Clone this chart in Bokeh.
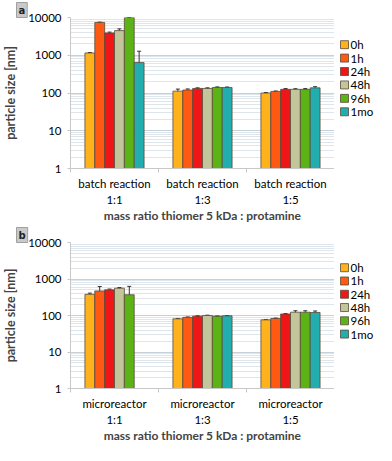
import numpy as np
from bokeh.plotting import figure
from bokeh.models import (ColumnDataSource, Whisker, TeeHead, FixedTicker,
                          Title, LinearAxis)
from bokeh.core.properties import value
from bokeh.layouts import column, row
from bokeh.embed import file_html
from bokeh.resources import INLINE

# ---------------- data ----------------
series = ["0h", "1h", "24h", "48h", "96h", "1mo"]
colors = ["#FFB21C", "#FF5912", "#EE1616", "#C2C69A", "#5BB315", "#22ADAF"]

cats_a = ["batch reaction", "batch reaction", "batch reaction"]
cats_b = ["microreactor", "microreactor", "microreactor"]
ratios = ["1:1", "1:3", "1:5"]

y_ticks = [1, 10, 100, 1000, 10000]
y_tick_labels = ["1", "10", "100", "1000", "10000"]

# panel a (batch reaction) mean sizes [nm] per time point, for ratios 1:1, 1:3, 1:5
a_0h = [1150, 112, 100]
a_1h = [7400, 120, 110]
a_24h = [3900, 132, 125]
a_48h = [4500, 132, 125]
a_96h = [10000, 140, 125]
a_1mo = [640, 140, 137]
# errors
ea_0h = [30, 15, 3]
ea_1h = [120, 8, 3]
ea_24h = [200, 5, 6]
ea_48h = [500, 5, 5]
ea_96h = [0, 5, 6]
ea_1mo = [638, 4, 10]

# panel b (microreactor)
b_0h = [380, 81, 76]
b_1h = [470, 89, 83]
b_24h = [505, 96, 110]
b_48h = [560, 100, 123]
b_96h = [370, 95, 123]
b_1mo = [float("nan"), 98, 121]
eb_0h = [30, 2, 2]
eb_1h = [150, 2, 2]
eb_24h = [25, 2, 3]
eb_48h = [25, 2, 12]
eb_96h = [258, 2, 12]
eb_1mo = [float("nan"), 2, 12]

vals_a = [a_0h, a_1h, a_24h, a_48h, a_96h, a_1mo]
errs_a = [ea_0h, ea_1h, ea_24h, ea_48h, ea_96h, ea_1mo]
vals_b = [b_0h, b_1h, b_24h, b_48h, b_96h, b_1mo]
errs_b = [eb_0h, eb_1h, eb_24h, eb_48h, eb_96h, eb_1mo]

FONT = "Lato"
BAR_W = 0.112
MAIN_W = 334
LEG_W = 42
OUTLINE = "#5a4a3a"


def make_panel(cats, vals, errs, tag, height, top, bottom):
    p = figure(width=MAIN_W, height=height, y_axis_type="log", y_range=(1, 10000),
               x_range=(-0.5, 2.5), output_backend="svg", toolbar_location=None,
               min_border_left=54, min_border_right=0, min_border_top=top,
               min_border_bottom=bottom)
    p.outline_line_color = None
    p.xgrid.grid_line_color = None

    # panel tag as a small boxed title in the top-left corner
    t = Title(text=tag, align="left", offset=-54, standoff=0,
              text_font="DejaVu Sans", text_font_style="bold", text_font_size="10px",
              text_color="#222222", background_fill_color="#c9c9c9",
              border_line_color="#a0a0a0", padding=2)
    p.add_layout(t, "above")

    minor = [m * 10 ** d for d in range(0, 4) for m in range(2, 10)]
    yt = FixedTicker(ticks=y_ticks, minor_ticks=minor)
    p.yaxis.ticker = yt
    p.ygrid.ticker = yt
    p.ygrid.grid_line_color = "#c6d2da"
    p.ygrid.grid_line_width = 1.2
    p.ygrid.minor_grid_line_color = "#dfe6eb"
    p.yaxis.major_label_overrides = {t: l for t, l in zip(y_ticks, y_tick_labels)}
    p.yaxis.axis_line_color = "#c8c8c8"
    p.yaxis.major_tick_line_color = "#c8c8c8"
    p.yaxis.major_tick_in = 0
    p.yaxis.major_tick_out = 3
    p.yaxis.minor_tick_line_color = None
    p.yaxis.major_label_text_font = FONT
    p.yaxis.major_label_text_font_size = "11.5px"
    p.yaxis.major_label_text_color = "#000000"
    p.yaxis.axis_label = "particle size [nm]"
    p.yaxis.axis_label_text_font = FONT
    p.yaxis.axis_label_text_font_style = "bold"
    p.yaxis.axis_label_text_font_size = "12.5px"
    p.yaxis.axis_label_standoff = 7

    xt = FixedTicker(ticks=[0, 1, 2], minor_ticks=[-0.5, 0.5, 1.5, 2.5])
    ax = p.xaxis[0]
    ax.ticker = xt
    ax.major_label_overrides = {i: c for i, c in enumerate(cats)}
    ax.axis_line_color = "#c8c8c8"
    ax.major_tick_line_color = None
    ax.major_tick_out = 0
    ax.major_tick_in = 0
    ax.minor_tick_line_color = "#c8c8c8"
    ax.minor_tick_in = 0
    ax.minor_tick_out = 4
    ax.major_label_text_font = FONT
    ax.major_label_text_font_size = "11.5px"
    ax.major_label_text_color = "#000000"
    ax.major_label_standoff = 4

    ax2 = LinearAxis(ticker=xt, major_label_overrides={i: r for i, r in enumerate(ratios)})
    ax2.axis_line_color = None
    ax2.major_tick_line_color = None
    ax2.minor_tick_line_color = None
    ax2.major_tick_out = 0
    ax2.major_tick_in = 0
    ax2.minor_tick_out = 0
    ax2.minor_tick_in = 0
    ax2.major_label_text_font = FONT
    ax2.major_label_text_font_size = "11.5px"
    ax2.major_label_text_color = "#000000"
    ax2.major_label_standoff = 0
    ax2.axis_label = "mass ratio thiomer 5 kDa : protamine"
    ax2.axis_label_text_font = FONT
    ax2.axis_label_text_font_style = "bold"
    ax2.axis_label_text_font_size = "12px"
    ax2.axis_label_standoff = -1
    p.add_layout(ax2, "below")

    n = len(series)
    for i, (s, c, v, e) in enumerate(zip(series, colors, vals, errs)):
        off = (i - (n - 1) / 2) * BAR_W
        xs = [k + off for k in range(len(v))]
        v = np.array(v, dtype=float)
        e = np.array(e, dtype=float)
        src = ColumnDataSource(dict(x=xs, top=v, up=v + e, lo=v - e))
        p.vbar(x="x", top="top", bottom=1, width=BAR_W, source=src,
               fill_color=c, line_color=OUTLINE, line_width=0.8)
        w = Whisker(source=src, base="x", upper="up", lower="lo",
                    line_color="#333333", line_width=1,
                    upper_head=TeeHead(size=4, line_color="#333333", line_width=1),
                    lower_head=TeeHead(size=4, line_color="#333333", line_width=1))
        p.add_layout(w)

    # legend drawn in a narrow companion figure
    lg = figure(width=LEG_W, height=height, x_range=(0, LEG_W), y_range=(0, height),
                output_backend="svg", toolbar_location=None,
                min_border=0, min_border_left=0, min_border_right=0,
                min_border_top=0, min_border_bottom=0)
    lg.axis.visible = False
    lg.grid.visible = False
    lg.outline_line_color = None
    yc = height - (top + 10 + (height - top - 10 - bottom - 8) / 2)
    ys = [yc + ((n - 1) / 2 - i) * 20 for i in range(n)]
    lsrc = ColumnDataSource(dict(x=[10] * n, y=ys, c=colors, t=series, tx=[16] * n))
    lg.scatter(x="x", y="y", marker="square", size=8, fill_color="c",
               line_color=OUTLINE, line_width=0.8, source=lsrc)
    lg.text(x="tx", y="y", text="t", source=lsrc, text_font=value(FONT),
            text_font_size="11.5px", text_baseline="middle", text_align="left",
            text_color="#000000")
    return row(p, lg, spacing=0)


pa = make_panel(cats_a, vals_a, errs_a, "a", 225, 4, 50)
pb = make_panel(cats_b, vals_b, errs_b, "b", 220, 4, 50)

layout = column(pa, pb, spacing=0)
open("out.html", "w").write(file_html(layout, INLINE))
